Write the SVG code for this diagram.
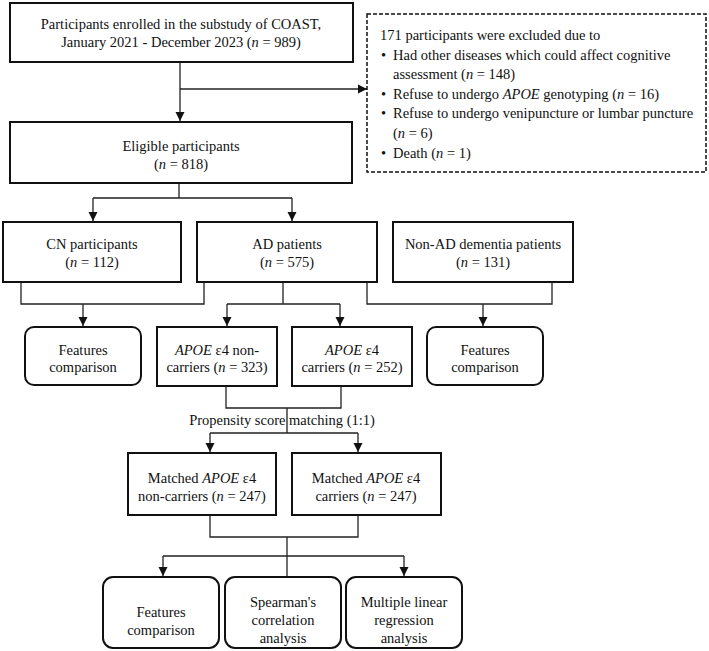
<svg xmlns="http://www.w3.org/2000/svg" width="709" height="651" viewBox="0 0 709 651">
<style>
text{font-family:"Liberation Serif","Times New Roman",serif;font-size:14.5px;fill:#111;text-anchor:middle}
.l{text-anchor:start}
.box{fill:#fff;stroke:#111;stroke-width:2}
.dash{fill:#fff;stroke:#111;stroke-width:1.5;stroke-dasharray:4 2}
.c{fill:none;stroke:#222;stroke-width:1.3}
.i{font-style:italic}
</style>
<defs>
<marker id="a" markerUnits="userSpaceOnUse" markerWidth="10" markerHeight="10" refX="9" refY="5" orient="auto">
<path d="M0,0.5 L9,5 L0,9.5 z" fill="#111"/>
</marker>
</defs>
<rect width="709" height="651" fill="#fff"/>
<g id="connectors">
<path class="c" d="M180,62 V121" marker-end="url(#a)"/>
<path class="c" d="M180,89 H367" marker-end="url(#a)"/>
<path class="c" d="M179,183 V198 M93,198 H292"/>
<path class="c" d="M93,198 V221" marker-end="url(#a)"/>
<path class="c" d="M292,198 V221" marker-end="url(#a)"/>
<path class="c" d="M21,282 V304 H204 V282"/>
<path class="c" d="M83,304 V326" marker-end="url(#a)"/>
<path class="c" d="M283,282 V304 M227,304 H340"/>
<path class="c" d="M227,304 V326" marker-end="url(#a)"/>
<path class="c" d="M340,304 V326" marker-end="url(#a)"/>
<path class="c" d="M367,282 V304 H552 V282"/>
<path class="c" d="M483,304 V326" marker-end="url(#a)"/>
<path class="c" d="M226,386 V408 H341 V386 M287,408 V433 M210,433 H358"/>
<path class="c" d="M210,433 V452" marker-end="url(#a)"/>
<path class="c" d="M358,433 V452" marker-end="url(#a)"/>
<path class="c" d="M210,515 V537 H358 V515 M287,537 V576 M163,556 H404"/>
<path class="c" d="M163,556 V576" marker-end="url(#a)"/>
<path class="c" d="M404,556 V576" marker-end="url(#a)"/>
<text x="282" y="425">Propensity score matching (1:1)</text>
</g>
<g id="enrolled">
<rect class="box" x="10" y="3" width="343" height="59"/>
<text x="181" y="29">Participants enrolled in the substudy of COAST,</text>
<text x="181" y="47">January 2021 - December 2023 (<tspan class="i">n</tspan> = 989)</text>
</g>
<g id="excluded">
<rect class="dash" x="367" y="14" width="339" height="158"/>
<text class="l" x="380" y="40">171 participants were excluded due to</text>
<text class="l" x="381" y="60">•</text><text class="l" x="393" y="60">Had other diseases which could affect cognitive</text>
<text class="l" x="393" y="79">assessment (<tspan class="i">n</tspan> = 148)</text>
<text class="l" x="381" y="99">•</text><text class="l" x="393" y="99">Refuse to undergo <tspan class="i">APOE</tspan> genotyping (<tspan class="i">n</tspan> = 16)</text>
<text class="l" x="381" y="118">•</text><text class="l" x="393" y="118">Refuse to undergo venipuncture or lumbar puncture</text>
<text class="l" x="393" y="138">(<tspan class="i">n</tspan> = 6)</text>
<text class="l" x="381" y="158">•</text><text class="l" x="393" y="158">Death (<tspan class="i">n</tspan> = 1)</text>
</g>
<g id="eligible">
<rect class="box" x="10" y="122" width="342" height="61"/>
<text x="181" y="151">Eligible participants</text>
<text x="181" y="169">(<tspan class="i">n</tspan> = 818)</text>
</g>
<g id="cn">
<rect class="box" x="3" y="222" width="178" height="60"/>
<text x="92" y="249">CN participants</text>
<text x="92" y="267">(<tspan class="i">n</tspan> = 112)</text>
</g>
<g id="ad">
<rect class="box" x="197" y="222" width="180" height="60"/>
<text x="287" y="249">AD patients</text>
<text x="287" y="267">(<tspan class="i">n</tspan> = 575)</text>
</g>
<g id="nonad">
<rect class="box" x="393" y="222" width="180" height="60"/>
<text x="483" y="249">Non-AD dementia patients</text>
<text x="483" y="267">(<tspan class="i">n</tspan> = 131)</text>
</g>
<g id="feat1">
<rect class="box" x="25" y="327" width="116" height="58" rx="9"/>
<text x="83" y="355">Features</text>
<text x="83" y="372">comparison</text>
</g>
<g id="noncarriers">
<rect class="box" x="157" y="327" width="120" height="59"/>
<text x="217" y="355"><tspan class="i">APOE</tspan> ε4 non-</text>
<text x="217" y="372">carriers (<tspan class="i">n</tspan> = 323)</text>
</g>
<g id="carriers">
<rect class="box" x="292" y="327" width="120" height="59"/>
<text x="352" y="355"><tspan class="i">APOE</tspan> ε4</text>
<text x="352" y="372">carriers (<tspan class="i">n</tspan> = 252)</text>
</g>
<g id="feat2">
<rect class="box" x="427" y="327" width="116" height="58" rx="9"/>
<text x="485" y="355">Features</text>
<text x="485" y="372">comparison</text>
</g>
<g id="mnoncarriers">
<rect class="box" x="128" y="453" width="148" height="62"/>
<text x="202" y="483">Matched <tspan class="i">APOE</tspan> ε4</text>
<text x="202" y="501">non-carriers (<tspan class="i">n</tspan> = 247)</text>
</g>
<g id="mcarriers">
<rect class="box" x="292" y="453" width="149" height="62"/>
<text x="366" y="483">Matched <tspan class="i">APOE</tspan> ε4</text>
<text x="366" y="501">carriers (<tspan class="i">n</tspan> = 247)</text>
</g>
<g id="feat3">
<rect class="box" x="103" y="577" width="116" height="71" rx="10"/>
<text x="161" y="617">Features</text>
<text x="161" y="635">comparison</text>
</g>
<g id="spearman">
<rect class="box" x="225" y="577" width="116" height="71" rx="10"/>
<text x="283" y="607">Spearman's</text>
<text x="283" y="625">correlation</text>
<text x="283" y="643">analysis</text>
</g>
<g id="mlr">
<rect class="box" x="346" y="577" width="116" height="71" rx="10"/>
<text x="404" y="607">Multiple linear</text>
<text x="404" y="625">regression</text>
<text x="404" y="643">analysis</text>
</g>
</svg>
